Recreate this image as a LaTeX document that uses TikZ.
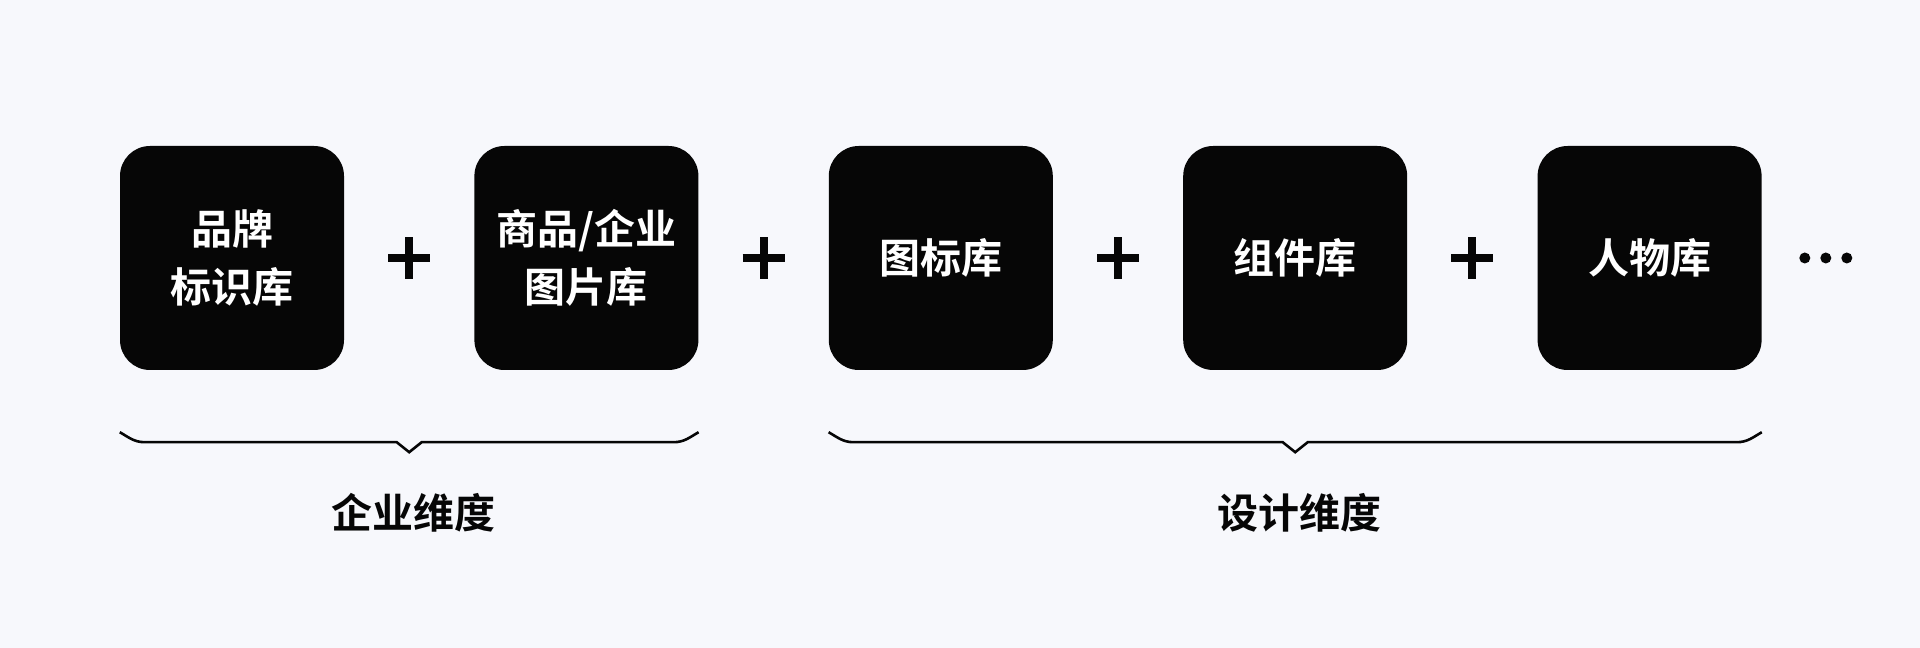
\documentclass[tikz,border=0pt]{standalone}
\usepackage{fontspec}
\usepackage{tikz}
\usetikzlibrary{positioning,chains,calc}
\newfontfamily\cjk{Noto Sans CJK SC}[BoldFont={* Bold}]
\definecolor{mybg}{RGB}{247,248,252}
\definecolor{myblack}{RGB}{6,6,6}

\begin{document}
\begin{tikzpicture}[x=1pt,y=1pt,
		  every node/.style={font=\cjk\bfseries\fontsize{41}{58}\selectfont},
		  libbox/.style={fill=myblack,text=white,rounded corners=30pt,minimum size=224pt,inner sep=0pt,align=center},
		  plusbar/.style={draw=myblack,line width=8pt},
		  dotnode/.style={circle,fill=myblack,minimum size=11pt,inner sep=0pt},
		  brace/.style={draw=myblack,line width=2.6pt},
		  dimlabel/.style={text=myblack,inner sep=0pt}
		]

			% the background
			\fill[mybg] (0,0) rectangle (1920,648);

			% the libraries
			\begin{scope}[xshift=232pt,yshift=390pt,start chain=going right,node distance=130pt]
			\foreach \t [count=\i] in {{品牌\\标识库},{商品/企业\\图片库},{图标库},{组件库},{人物库}}
			  \node[libbox,on chain] (b\i) {\t};
			\end{scope}

			% the plus signs
			\foreach \i/\j in {1/2,2/3,3/4,4/5} {
			  \coordinate (p\i) at ($(b\i)!0.5!(b\j)$);
			  \draw [plusbar] ($(p\i)+(-21,0)$) -- ($(p\i)+(21,0)$);
			  \draw [plusbar] ($(p\i)+(0,-21)$) -- ($(p\i)+(0,21)$);
			}

			% the dots
			\foreach \i in {1,2,3}
			  \node[dotnode] (d\i) at ($(b5.east)+(22+21*\i,0)$) {};

			% the tips of the braces
			\coordinate (t1) at ($(b1.south west)!0.5!(b2.south east)+(0,-82)$);
			\coordinate (t2) at ($(b3.south west)!0.5!(b5.south east)+(0,-82)$);

			% the braces
			\draw [brace] ($(b1.south west)+(0,-62)$) to[out=-30,in=180] ++(25,-10)
			  -- ($(t1)+(-12.5,10)$) -- (t1) -- ($(t1)+(12.5,10)$)
			  -- ($(b2.south east)+(-25,-72)$) to[out=0,in=-150] ++(25,10);
			\draw [brace] ($(b3.south west)+(0,-62)$) to[out=-30,in=180] ++(25,-10)
			  -- ($(t2)+(-12.5,10)$) -- (t2) -- ($(t2)+(12.5,10)$)
			  -- ($(b5.south east)+(-25,-72)$) to[out=0,in=-150] ++(25,10);

			% the dimensions
			\node[dimlabel] (l1) at ($(t1)+(4,-61)$) {企业维度};
			\node[dimlabel] (l2) at ($(t2)+(4,-61)$) {设计维度};

		\end{tikzpicture}
\end{document}
